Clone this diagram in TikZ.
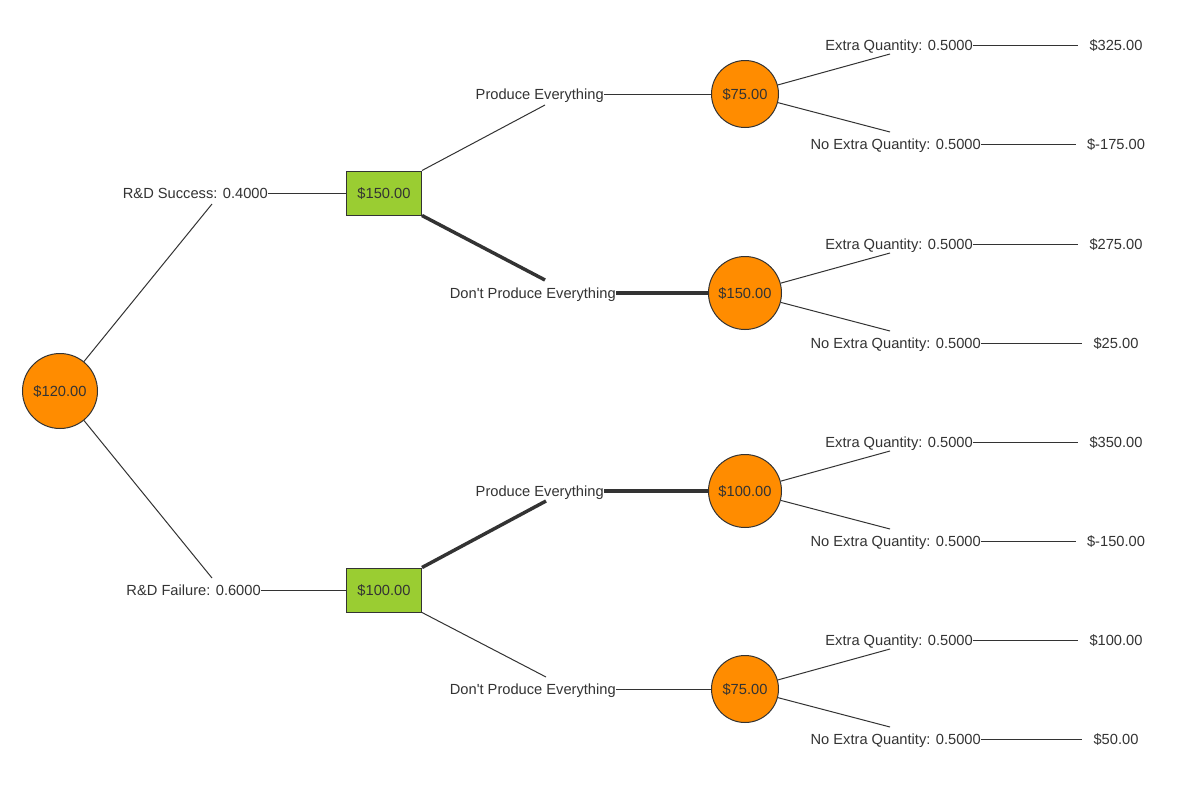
\documentclass[tikz,border=0pt]{standalone}
\usepackage{fontspec}
\setmainfont{Liberation Sans}[Ligatures=TeXOff]
\definecolor{ln}{HTML}{333333}
\definecolor{chance}{HTML}{FF8C00}
\definecolor{decision}{HTML}{9ACD32}
\begin{document}
\begin{tikzpicture}[x=0.75pt,y=-0.75pt,
  every node/.style={font=\fontsize{11}{13}\selectfont, text=ln, text height=7.9pt, text depth=0pt},
  chancenode/.style={circle, draw=ln, fill=chance, inner sep=0pt, line width=0.75pt},
  decisionnode/.style={rectangle, draw=ln, fill=decision, minimum width=56.25pt, minimum height=33pt, inner sep=0pt, line width=0.75pt},
  lbl/.style={inner sep=0pt, anchor=east},
  val/.style={inner xsep=8.25pt, inner ysep=0pt},
  br/.style={draw=ln, line width=0.75pt},
  best/.style={draw=ln, line width=2.6pt}]
\fill[white] (0,0) rectangle (1200,804);
\useasboundingbox (0,0) rectangle (1200,804);

% nodes
\node[chancenode, minimum size=56.25pt] (root) at (60,391) {\$120.00};
\node[decisionnode] (d1) at (384,193) {\$150.00};
\node[decisionnode] (d2) at (384,590) {\$100.00};
\node[chancenode, minimum size=50.25pt] (c1) at (745,94) {\$75.00};
\node[chancenode, minimum size=54.75pt] (c2) at (745,293) {\$150.00};
\node[chancenode, minimum size=54.75pt] (c3) at (745,491) {\$100.00};
\node[chancenode, minimum size=50.25pt] (c4) at (745,689) {\$75.00};

% level 1
\node[lbl] (l1) at (268,193) {R\&D Success: 0.4000};
\coordinate (e1) at (212,204);
\draw[br] (root) -- (e1);
\draw[br] (l1.east) -- (d1.west);
\node[lbl] (l2) at (261,590) {R\&D Failure: 0.6000};
\coordinate (e2) at (212,578);
\draw[br] (root) -- (e2);
\draw[br] (l2.east) -- (d2.west);

% level 2
\node[lbl] (l3) at (604,94) {Produce Everything};
\coordinate (e3) at (545,105);
\draw[br] (d1.north east) -- (e3);
\draw[br] (l3.east) -- (c1);
\node[lbl] (l4) at (616,293) {Don't Produce Everything};
\coordinate (e4) at (545,280);
\draw[best] (d1.south east) -- (e4);
\draw[best] (l4.east) -- (c2);
\node[lbl] (l5) at (604,491) {Produce Everything};
\coordinate (e5) at (546,501);
\draw[best] (d2.north east) -- (e5);
\draw[best] (l5.east) -- (c3);
\node[lbl] (l6) at (616,689) {Don't Produce Everything};
\coordinate (e6) at (546,677);
\draw[br] (d2.south east) -- (e6);
\draw[br] (l6.east) -- (c4);

% level 3
\foreach \n/\y/\a/\b in {1/94/325.00/-175.00, 2/293/275.00/25.00, 3/491/350.00/-150.00, 4/689/100.00/50.00}{
  \node[lbl] (xa\n) at (973,\y-49) {Extra Quantity: 0.5000};
  \coordinate (ea\n) at (890,\y-40);
  \draw[br] (c\n) -- (ea\n);
  \node[val] (va\n) at (1116,\y-49) {\$\a};
  \draw[br] (xa\n.east) -- (va\n.west);
  \node[lbl] (xb\n) at (981,\y+50) {No Extra Quantity: 0.5000};
  \coordinate (eb\n) at (890,\y+38);
  \draw[br] (c\n) -- (eb\n);
  \node[val] (vb\n) at (1116,\y+50) {\$\b};
  \draw[br] (xb\n.east) -- (vb\n.west);
}
\end{tikzpicture}
\end{document}
